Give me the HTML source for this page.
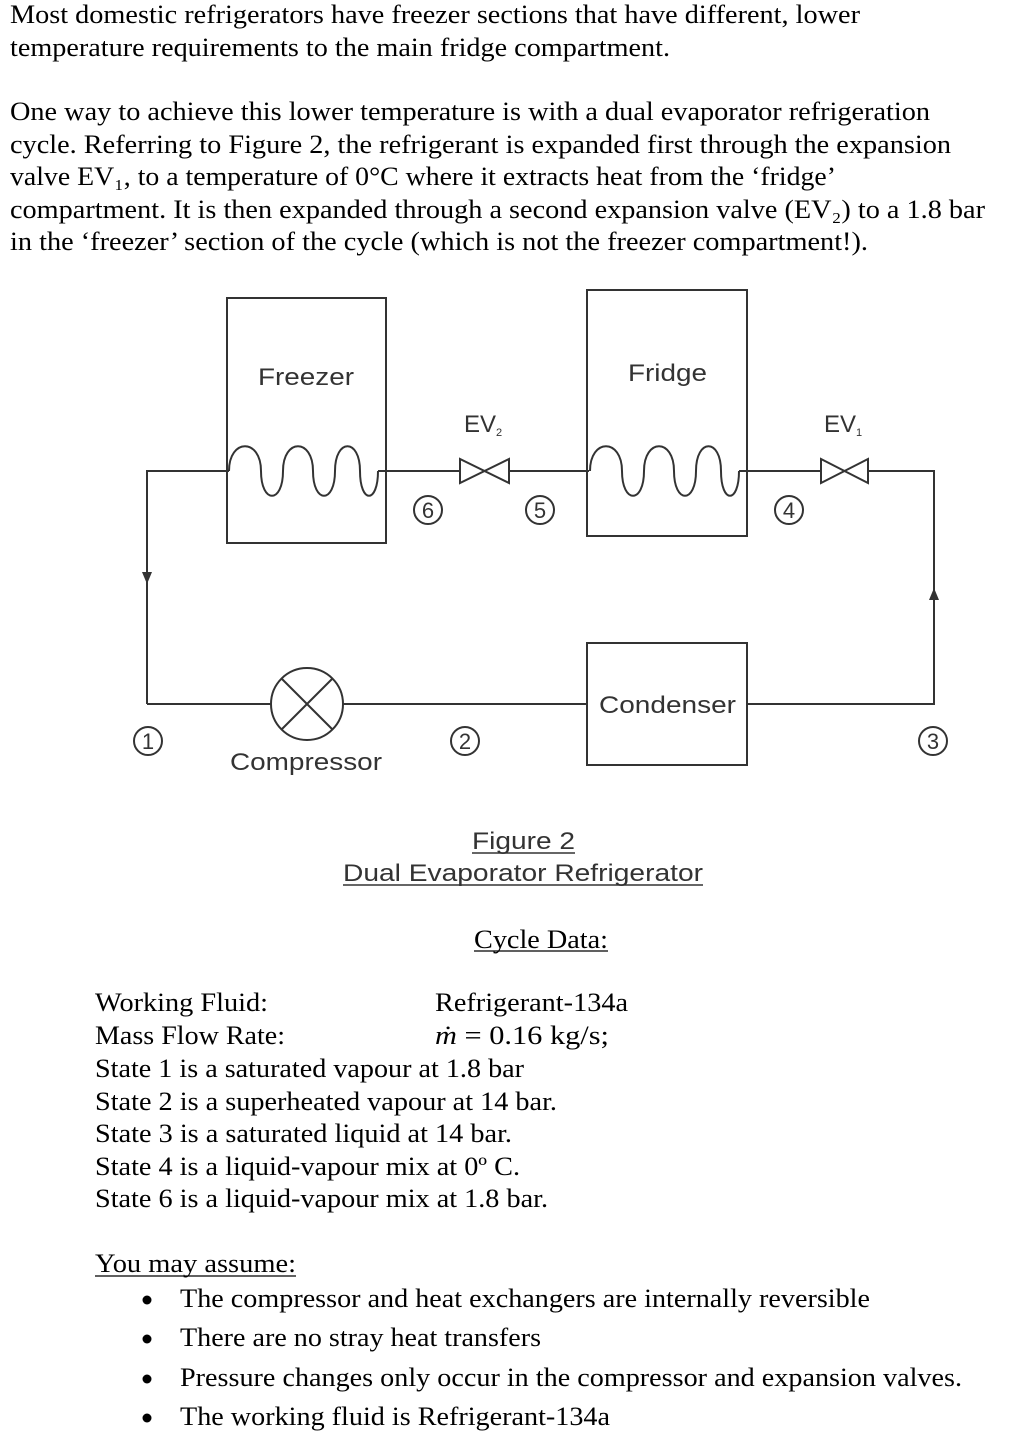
<!DOCTYPE html>
<html><head><meta charset="utf-8"><style>
html,body{margin:0;padding:0;background:#fff;}
svg{display:block;}
.t{font-family:"Liberation Serif",serif;font-size:26px;fill:#000;}
.a{font-family:"Liberation Sans",sans-serif;font-size:24px;fill:#333;}
.n{font-family:"Liberation Sans",sans-serif;font-size:22px;fill:#333;text-anchor:middle;}
</style></head><body>
<svg width="1022" height="1444" viewBox="0 0 1022 1444" xmlns="http://www.w3.org/2000/svg">
<text class="t" x="10" y="23" textLength="850" lengthAdjust="spacingAndGlyphs">Most domestic refrigerators have freezer sections that have different, lower</text>
<text class="t" x="10" y="56" textLength="660" lengthAdjust="spacingAndGlyphs">temperature requirements to the main fridge compartment.</text>
<text class="t" x="10" y="120" textLength="920" lengthAdjust="spacingAndGlyphs">One way to achieve this lower temperature is with a dual evaporator refrigeration</text>
<text class="t" x="10" y="153" textLength="941" lengthAdjust="spacingAndGlyphs">cycle. Referring to Figure 2, the refrigerant is expanded first through the expansion</text>
<text class="t" x="10" y="185" textLength="826" lengthAdjust="spacingAndGlyphs">valve EV₁, to a temperature of 0°C where it extracts heat from the ‘fridge’</text>
<text class="t" x="10" y="218" textLength="975" lengthAdjust="spacingAndGlyphs">compartment. It is then expanded through a second expansion valve (EV₂) to a 1.8 bar</text>
<text class="t" x="10" y="250" textLength="858" lengthAdjust="spacingAndGlyphs">in the ‘freezer’ section of the cycle (which is not the freezer compartment!).</text>

<g stroke="#333" stroke-width="2" fill="none">
<rect x="227" y="298" width="159" height="245"/>
<rect x="587" y="290" width="160" height="246"/>
<rect x="587" y="643" width="160" height="122"/>
<path d="M147 704 V471 H229 M378 471 H460 M509 471 H589 M739 471 H821 M868 471 H934 V704 H747 M587 704 H343 M271 704 H147"/>
<path d="M229 471 C229 438,261 438,261 471 C261 504,283 504,283 471 C283 438,313 438,313 471 C313 504,335 504,335 471 C335 438,360 438,360 471 C360 504,378 504,378 471"/>
<path transform="translate(361,0)" d="M229 471 C229 438,261 438,261 471 C261 504,283 504,283 471 C283 438,313 438,313 471 C313 504,335 504,335 471 C335 438,360 438,360 471 C360 504,378 504,378 471"/>
<path d="M460 459 V483 L509 459 V483 Z"/>
<path d="M821 459 V483 L868 459 V483 Z"/>
<circle cx="307" cy="704" r="36"/>
<path d="M282 679 L332 729 M332 679 L282 729"/>
<circle cx="428" cy="510" r="14"/>
<circle cx="540" cy="510" r="14"/>
<circle cx="789" cy="510" r="14"/>
<circle cx="148" cy="741" r="14"/>
<circle cx="465" cy="741" r="14"/>
<circle cx="933" cy="741" r="14"/>
</g>
<path d="M142 572 L152 572 L147 584 Z" fill="#333"/>
<path d="M929 600 L939 600 L934 588 Z" fill="#333"/>
<text class="n" x="428" y="518">6</text>
<text class="n" x="540" y="518">5</text>
<text class="n" x="789" y="518">4</text>
<text class="n" x="148" y="749">1</text>
<text class="n" x="465" y="749">2</text>
<text class="n" x="933" y="749">3</text>
<text class="a" x="258" y="385" textLength="96" lengthAdjust="spacingAndGlyphs">Freezer</text>
<text class="a" x="628" y="381" textLength="79" lengthAdjust="spacingAndGlyphs">Fridge</text>
<text class="a" x="464" y="432">EV<tspan font-size="11" dy="4">2</tspan></text>
<text class="a" x="824" y="432">EV<tspan font-size="11" dy="4">1</tspan></text>
<text class="a" x="599" y="713" textLength="137" lengthAdjust="spacingAndGlyphs">Condenser</text>
<text class="a" x="230" y="770" textLength="152" lengthAdjust="spacingAndGlyphs">Compressor</text>
<text class="a" x="472" y="849" textLength="103" lengthAdjust="spacingAndGlyphs">Figure 2</text>
<text class="a" x="343" y="881" textLength="360" lengthAdjust="spacingAndGlyphs">Dual Evaporator Refrigerator</text>
<line x1="472" y1="853" x2="575" y2="853" stroke="#333" stroke-width="1.5"/>
<line x1="343" y1="885" x2="703" y2="885" stroke="#333" stroke-width="1.5"/>

<text class="t" x="474" y="948" textLength="134" lengthAdjust="spacingAndGlyphs">Cycle Data:</text>
<line x1="474" y1="951" x2="608" y2="951" stroke="#000" stroke-width="1.3"/>
<text class="t" x="95" y="1011" textLength="173" lengthAdjust="spacingAndGlyphs">Working Fluid:</text>
<text class="t" x="435" y="1011" textLength="193" lengthAdjust="spacingAndGlyphs">Refrigerant-134a</text>
<text class="t" x="95" y="1044" textLength="190" lengthAdjust="spacingAndGlyphs">Mass Flow Rate:</text>
<text class="t" x="435" y="1044" textLength="174" lengthAdjust="spacingAndGlyphs"><tspan font-style="italic">ṁ</tspan> = 0.16 kg/s;</text>
<text class="t" x="95" y="1077" textLength="429" lengthAdjust="spacingAndGlyphs">State 1 is a saturated vapour at 1.8 bar</text>
<text class="t" x="95" y="1110" textLength="462" lengthAdjust="spacingAndGlyphs">State 2 is a superheated vapour at 14 bar.</text>
<text class="t" x="95" y="1142" textLength="417" lengthAdjust="spacingAndGlyphs">State 3 is a saturated liquid at 14 bar.</text>
<text class="t" x="95" y="1175" textLength="425" lengthAdjust="spacingAndGlyphs">State 4 is a liquid-vapour mix at 0º C.</text>
<text class="t" x="95" y="1207" textLength="453" lengthAdjust="spacingAndGlyphs">State 6 is a liquid-vapour mix at 1.8 bar.</text>
<text class="t" x="95" y="1272" textLength="201" lengthAdjust="spacingAndGlyphs">You may assume:</text>
<line x1="95" y1="1276" x2="296" y2="1276" stroke="#000" stroke-width="1.3"/>
<circle cx="147" cy="1300" r="4.5" fill="#000"/>
<circle cx="147" cy="1339" r="4.5" fill="#000"/>
<circle cx="147" cy="1379" r="4.5" fill="#000"/>
<circle cx="147" cy="1418" r="4.5" fill="#000"/>
<text class="t" x="180" y="1307" textLength="690" lengthAdjust="spacingAndGlyphs">The compressor and heat exchangers are internally reversible</text>
<text class="t" x="180" y="1346" textLength="361" lengthAdjust="spacingAndGlyphs">There are no stray heat transfers</text>
<text class="t" x="180" y="1386" textLength="782" lengthAdjust="spacingAndGlyphs">Pressure changes only occur in the compressor and expansion valves.</text>
<text class="t" x="180" y="1425" textLength="430" lengthAdjust="spacingAndGlyphs">The working fluid is Refrigerant-134a</text>
</svg>
</body></html>
